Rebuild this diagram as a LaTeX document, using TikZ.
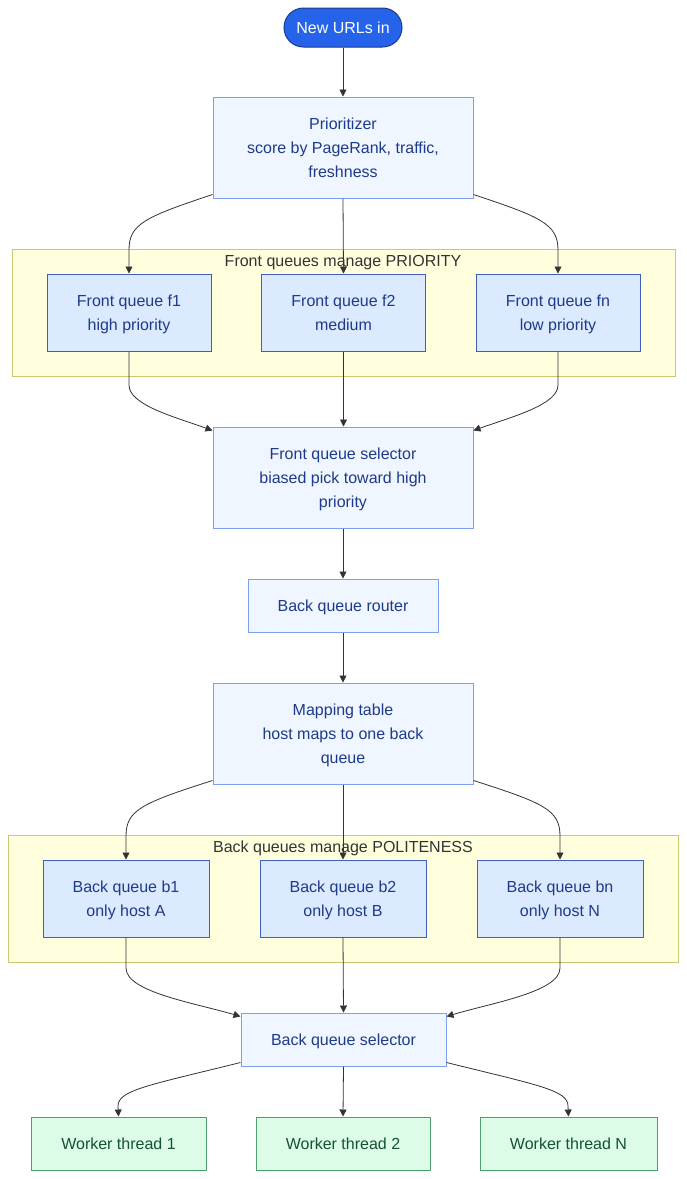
\documentclass[tikz,border=0pt]{standalone}
\usepackage{fontspec}
\setmainfont{Liberation Sans}
\usetikzlibrary{arrows.meta,calc}
\definecolor{startfill}{HTML}{2563EB}
\definecolor{startdraw}{HTML}{1E3A8A}
\definecolor{lightfill}{HTML}{EFF6FF}
\definecolor{lightdraw}{HTML}{7BA0F2}
\definecolor{qfill}{HTML}{DBEAFE}
\definecolor{qdraw}{HTML}{3F5FC0}
\definecolor{txtblue}{HTML}{1E3A8A}
\definecolor{clfill}{HTML}{FFFFDE}
\definecolor{cldraw}{HTML}{C8C870}
\definecolor{wfill}{HTML}{DCFCE7}
\definecolor{wdraw}{HTML}{4CA070}
\definecolor{wtext}{HTML}{14532D}
\definecolor{edge}{HTML}{333333}
\newcommand\fstr{\rule{0pt}{17.5pt}}
\tikzset{
  struts/.style={execute at end node={\rule[-6.5pt]{0pt}{6.5pt}}},
  base/.style={draw, line width=1pt, align=center, inner sep=0pt, struts},
  light/.style={base, fill=lightfill, draw=lightdraw, text=txtblue},
  queue/.style={base, fill=qfill, draw=qdraw, text=txtblue, minimum width=164pt, minimum height=77pt},
  worker/.style={base, fill=wfill, draw=wdraw, text=wtext, minimum height=53pt},
  cluster/.style={draw=cldraw, fill=clfill, line width=1pt},
  cllabel/.style={text=edge, inner sep=0pt, struts},
  arr/.style={draw=edge, line width=0.8pt, -{Triangle[length=7pt,width=7pt]}}
}
\begin{document}
\begin{tikzpicture}[x=1pt,y=-1pt,font=\fontsize{16}{24}\selectfont]
\useasboundingbox[fill=white] (0,0) rectangle (686,1179);
% clusters
\draw[cluster] (12,249) rectangle (675,376);
\node[cllabel] (fcl) at (343,260.5) {\fstr Front queues manage PRIORITY};
\draw[cluster] (8,835) rectangle (678,962);
\node[cllabel] (bcl) at (343,846.5) {\fstr Back queues manage POLITENESS};
% nodes
\node[base, fill=startfill, draw=startdraw, text=white, rounded corners=19.5pt, minimum width=118pt, minimum height=39pt] (start) at (343,27.5) {\fstr New URLs in};
\node[light, minimum width=260pt, minimum height=101pt] (prio) at (343,147.5) {\fstr Prioritizer\\score by PageRank, traffic,\\freshness};
\node[queue] (f1) at (129,312.5) {\fstr Front queue f1\\high priority};
\node[queue] (f2) at (343.5,312.5) {\fstr Front queue f2\\medium};
\node[queue] (fn) at (558,312.5) {\fstr Front queue fn\\low priority};
\node[light, minimum width=260pt, minimum height=101pt] (fqs) at (343,477.5) {\fstr Front queue selector\\biased pick toward high\\priority};
\node[light, minimum width=190pt, minimum height=53pt] (router) at (343,605.5) {\fstr Back queue router};
\node[light, minimum width=260pt, minimum height=101pt] (map) at (343,733.5) {\fstr Mapping table\\host maps to one back\\queue};
\node[queue, minimum width=166pt] (b1) at (126,898.5) {\fstr Back queue b1\\only host A};
\node[queue, minimum width=166pt] (b2) at (343,898.5) {\fstr Back queue b2\\only host B};
\node[queue, minimum width=166pt] (bn) at (560,898.5) {\fstr Back queue bn\\only host N};
\node[light, minimum width=205pt, minimum height=53pt] (bqs) at (343.5,1039.5) {\fstr Back queue selector};
\node[worker, minimum width=175pt] (w1) at (118.5,1143.5) {\fstr Worker thread 1};
\node[worker, minimum width=174pt] (w2) at (343,1143.5) {\fstr Worker thread 2};
\node[worker, minimum width=177pt] (wn) at (568.5,1143.5) {\fstr Worker thread N};
% edges
\draw[arr] (start.south) -- (prio.north);
\draw[arr] ($(prio.south west)+(0,-4)$) .. controls (145,217) and (129,224) .. (129,250) -- (f1.north);
\draw[arr] (prio.south) -- (f2.north);
\draw[arr] ($(prio.south east)+(0,-4)$) .. controls (541,217) and (558,224) .. (558,250) -- (fn.north);
\draw[arr] (f1.south) -- (129,385) .. controls (129,405) and (175,417) .. ($(fqs.north west)+(0,4)$);
\draw[arr] (f2.south) -- ($(fqs.north)+(0.5,0)$);
\draw[arr] (fn.south) -- (558,385) .. controls (558,405) and (511,417) .. ($(fqs.north east)+(0,4)$);
\draw[arr] (fqs.south) -- (router.north);
\draw[arr] (router.south) -- (map.north);
\draw[arr] ($(map.south west)+(0,-4)$) .. controls (142,803) and (126,810) .. (126,836) -- (b1.north);
\draw[arr] (map.south) -- (b2.north);
\draw[arr] ($(map.south east)+(0,-4)$) .. controls (544,803) and (560,810) .. (560,836) -- (bn.north);
\draw[arr] (b1.south) -- (126,968) .. controls (126,992) and (195,1003) .. ($(bqs.north west)+(0,4)$);
\draw[arr] (b2.south) -- (bqs.north);
\draw[arr] (bn.south) -- (560,968) .. controls (560,992) and (491,1003) .. ($(bqs.north east)+(0,4)$);
\draw[arr] ($(bqs.south west)+(0,-4)$) .. controls (150,1085) and (118,1090) .. (118,1106) -- (w1.north);
\draw[arr] (bqs.south) -- (w2.north);
\draw[arr] ($(bqs.south east)+(0,-4)$) .. controls (537,1085) and (568,1090) .. (568,1106) -- (wn.north);
\end{tikzpicture}
\end{document}
